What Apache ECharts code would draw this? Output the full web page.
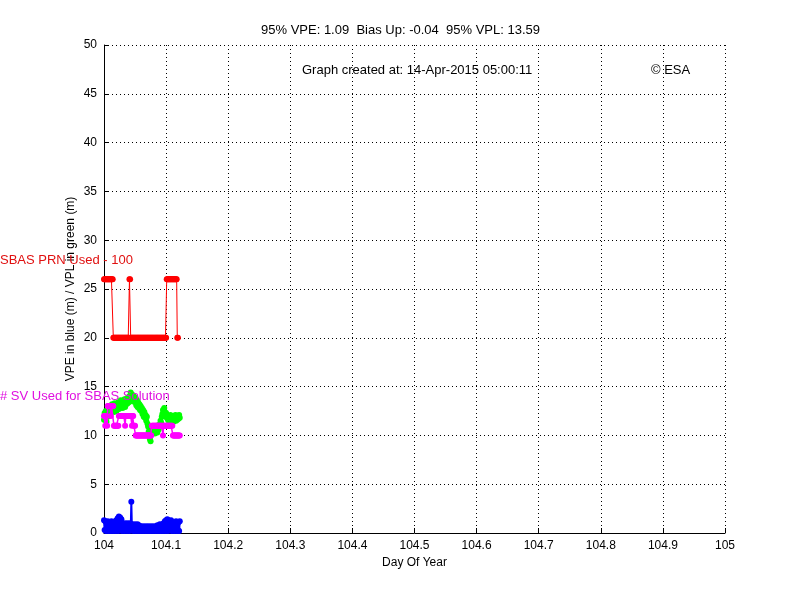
<!DOCTYPE html>
<html>
<head>
<meta charset="utf-8">
<script src="https://cdn.jsdelivr.net/npm/echarts@6/dist/echarts.min.js"></script>
<style>html,body{margin:0;padding:0;background:#fff}#c{width:801px;height:600px}</style>
</head>
<body>
<div id="c"></div>
<script>
// Day of year sample times
var doy = [
104.000,104.001,104.002,104.003,104.004,104.005,104.006,104.007,104.008,104.009,
104.010,104.011,104.012,104.013,104.014,104.015,104.016,104.017,104.018,104.019,
104.020,104.021,104.022,104.023,104.024,104.025,104.026,104.027,104.028,104.029,
104.030,104.031,104.032,104.033,104.034,104.035,104.036,104.037,104.038,104.039,
104.040,104.041,104.042,104.043,104.044,104.045,104.046,104.047,104.048,104.049,
104.050,104.051,104.052,104.053,104.054,104.055,104.056,104.057,104.058,104.059,
104.060,104.061,104.062,104.063,104.064,104.065,104.066,104.067,104.068,104.069,
104.070,104.071,104.072,104.073,104.074,104.075,104.076,104.077,104.078,104.079,
104.080,104.081,104.082,104.083,104.084,104.085,104.086,104.087,104.088,104.089,
104.090,104.091,104.092,104.093,104.094,104.095,104.096,104.097,104.098,104.099,
104.100,104.101,104.102,104.103,104.104,104.105,104.106,104.107,104.108,104.109,
104.110,104.111,104.112,104.113,104.114,104.115,104.116,104.117,104.118,104.119,
104.120,104.121,104.122];
// VPE (blue), m
var vpe = [
1.3,0.3,1.2,0.2,1.1,0.4,1.2,0.2,1.0,0.3,
1.1,0.2,1.2,0.3,1.0,0.2,1.1,0.4,1.2,0.2,
1.3,0.3,1.5,0.2,1.7,0.4,1.6,0.3,1.4,0.2,
1.0,0.3,0.9,0.2,1.0,0.4,0.9,0.2,1.0,0.3,
0.9,0.2,1.0,0.3,3.2,0.4,0.9,0.2,0.8,0.3,
0.9,0.2,0.8,0.3,0.9,0.2,0.8,0.3,0.7,0.2,
0.7,0.3,0.6,0.2,0.7,0.3,0.6,0.2,0.7,0.3,
0.6,0.2,0.7,0.3,0.6,0.2,0.7,0.3,0.6,0.2,
0.7,0.3,0.6,0.2,0.7,0.3,0.8,0.2,0.7,0.3,
0.9,0.2,0.8,0.3,0.9,0.2,1.0,0.3,1.2,0.2,
1.3,0.3,1.4,0.2,1.3,0.4,1.2,0.3,1.3,0.2,
1.1,0.3,1.0,0.2,1.1,0.3,1.2,0.2,1.0,0.3,
1.1,0.2,1.2];
// VPL (green), m
var vpl = [
11.6,12.3,11.8,12.5,11.4,12.2,11.9,12.6,12.0,12.4,
12.3,12.9,12.5,13.2,12.6,13.0,12.4,13.3,12.8,13.1,
12.5,13.2,12.9,13.4,12.7,13.3,12.8,13.6,13.0,13.4,
12.8,13.5,13.1,13.7,12.9,13.4,13.2,13.8,13.3,13.6,
13.4,14.0,13.6,14.4,13.8,14.2,13.5,14.1,13.7,13.9,
13.4,13.8,13.1,13.6,12.9,13.4,12.8,13.2,12.6,13.0,
12.5,12.8,12.2,12.6,11.9,12.4,11.8,12.1,11.5,11.9,
11.2,10.9,10.4,10.0,9.6,9.4,10.1,10.6,10.3,10.8,
10.4,10.9,10.2,10.7,10.5,11.0,10.3,10.8,10.6,11.1,
11.0,11.5,11.3,11.9,12.2,12.6,12.3,12.8,12.4,12.1,
12.3,11.8,12.0,11.6,11.9,11.4,11.8,12.1,11.5,11.9,
11.6,12.0,11.4,11.8,11.7,12.1,11.5,11.9,11.6,12.0,
11.7,12.1,11.8];
// # SV used for SBAS solution (magenta)
var nsv = [
12,12,11,12,12,11,13,13,13,13,
13,12,13,13,13,13,11,11,11,11,
11,11,11,11,12,12,12,12,12,12,
12,12,12,12,11,12,12,12,12,12,
12,12,12,12,12,11,12,12,11,11,
11,10,10,10,10,10,10,10,10,10,
10,10,10,10,10,10,10,10,10,10,
10,10,10,10,10,10,10,11,11,11,
11,11,11,11,11,11,11,11,11,11,
11,11,11,11,11,10,11,11,11,11,
11,11,11,11,11,11,11,11,11,11,
11,10,10,10,10,10,10,10,10,10,
10,10,10];
// SBAS PRN used - 100 (red)
var prn = [
26,26,26,26,26,26,26,26,26,26,
26,26,26,26,26,20,20,20,20,20,
20,20,20,20,20,20,20,20,20,20,
20,20,20,20,20,20,20,20,20,20,
20,26,26,20,20,20,20,20,20,20,
20,20,20,20,20,20,20,20,20,20,
20,20,20,20,20,20,20,20,20,20,
20,20,20,20,20,20,20,20,20,20,
20,20,20,20,20,20,20,20,20,20,
20,20,20,20,20,20,20,20,20,20,
20,26,26,26,26,26,26,26,26,26,
26,26,26,26,26,26,26,26,20,20,
null,null,null];

function pairs(v){ return doy.map(function(d,i){ return [d, v[i]]; }); }

var font = 'Liberation Sans, Arial, Helvetica, sans-serif';
var chart = echarts.init(document.getElementById('c'), null, {renderer:'canvas'});
var dotted = {show:true, lineStyle:{color:'#000', type:[1,3], width:1}};
function ser(name, v, color, z, lw, ss){
  return {name:name, type:'line', data:pairs(v), symbol:'circle', symbolSize:ss,
    showSymbol:true, showAllSymbol:true, animation:false, z:z, connectNulls:false,
    lineStyle:{color:color, width:lw}, itemStyle:{color:color}};
}
chart.setOption({
  animation:false,
  backgroundColor:'#fff',
  grid:{left:104, right:76, top:45, bottom:67, containLabel:false},
  xAxis:{type:'value', min:104, max:105, interval:0.1,
    name:'Day Of Year', nameLocation:'middle', nameGap:23,
    nameTextStyle:{color:'#000', fontSize:12, fontFamily:font},
    axisLine:{show:true, onZero:false, lineStyle:{color:'#000', width:1}},
    axisTick:{show:true, inside:true, length:5, lineStyle:{color:'#000'}},
    axisLabel:{color:'#000', fontSize:12, fontFamily:font, margin:7,
      formatter:function(v){ return String(+v.toFixed(1)); }},
    splitLine:dotted},
  yAxis:{type:'value', min:0, max:50, interval:5,
    axisLine:{show:true, onZero:false, lineStyle:{color:'#000', width:1}},
    axisTick:{show:true, inside:true, length:5, lineStyle:{color:'#000'}},
    axisLabel:{color:'#000', fontSize:12, fontFamily:font, margin:7},
    splitLine:dotted},
  series:[
    ser('VPE', vpe, '#0000ff', 3, 2, 6),
    ser('VPL', vpl, '#00ff00', 4, 1.5, 6),
    ser('SV', nsv, '#ff00ff', 5, 1.5, 6),
    ser('PRN', prn, '#ff0000', 6, 1, 6)
  ],
  graphic:[
    {type:'text', x:71, y:289, rotation:Math.PI/2, z:99, style:{text:'VPE in blue (m) / VPL in green (m)', fill:'#000', font:'12px '+font, align:'center', verticalAlign:'middle'}},
    {type:'text', left:'center', x:0, top:24, z:100, style:{text:'95% VPE: 1.09  Bias Up: -0.04  95% VPL: 13.59', fill:'#000', font:'13px '+font}},
    {type:'text', x:302, y:64, z:100, style:{text:'Graph created at: 14-Apr-2015 05:00:11', fill:'#000', font:'13px '+font}},
    {type:'text', x:651, y:64, z:100, style:{text:'\u00A9 ESA', fill:'#000', font:'13px '+font}},
    {type:'text', x:0, y:254, z:100, style:{text:'SBAS PRN Used - 100', fill:'#e01010', font:'13px '+font}},
    {type:'text', x:0, y:390, z:100, style:{text:'# SV Used for SBAS Solution', fill:'#e010e0', font:'13px '+font}}
  ]
});
</script>
</body>
</html>
